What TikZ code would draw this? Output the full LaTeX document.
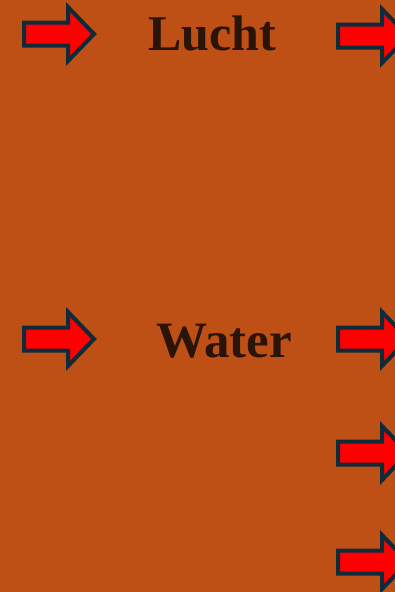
\documentclass[tikz,border=0pt]{standalone}
\usepackage{fontspec}
\setmainfont{Liberation Serif}
\definecolor{bgc}{HTML}{BF5015}
\definecolor{arrowfill}{HTML}{FF0000}
\definecolor{arrowline}{HTML}{0F2B3A}
\definecolor{inkc}{HTML}{2A140A}
\tikzset{
  redarrow/.pic={
    \draw[fill=arrowfill,draw=arrowline,line width=4pt,line join=miter]
      (2,11.5) -- (46,11.5) -- (46,27) -- (72,0) -- (46,-27) -- (46,-11.5) -- (2,-11.5) -- cycle;
  },
  title/.style={font=\bfseries\fontsize{50}{54}\selectfont, text=inkc, inner sep=0pt}
}
\begin{document}
\begin{tikzpicture}[x=1pt,y=-1pt]
  \fill[bgc] (0,0) rectangle (395,592);
  \useasboundingbox (0,0) rectangle (395,592);
  \pic at (22,34) {redarrow};
  \pic at (336,36) {redarrow};
  \pic at (22,339) {redarrow};
  \pic at (336,339) {redarrow};
  \pic at (336,453) {redarrow};
  \pic at (336,562) {redarrow};
  \node[title, anchor=base] (lucht) at (212,50) {Lucht};
  \node[title, anchor=base, font=\bfseries\fontsize{51}{55}\selectfont] (water) at (224,357) {Water};
\end{tikzpicture}
\end{document}
